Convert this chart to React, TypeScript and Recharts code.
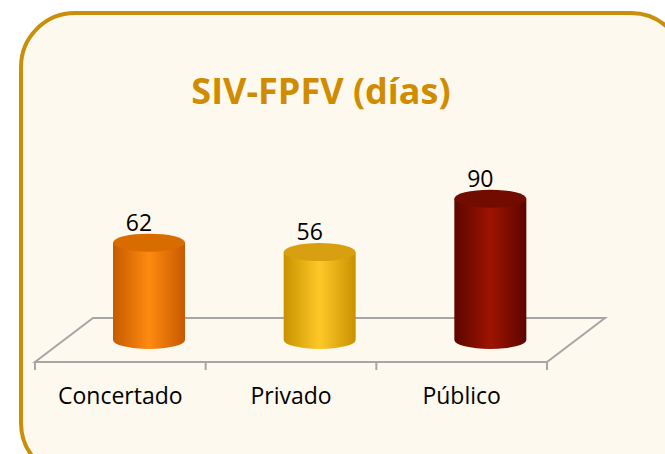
import { BarChart, Bar, XAxis, YAxis, LabelList, Customized } from "recharts";

const categories = ["Concertado", "Privado", "Público"];
const values = [62, 56, 90];

const W = 665;
const H = 454;
// floor layout
const FLOOR_LEFT = 35;
const FLOOR_RIGHT = 547;
const FLOOR_FRONT = 362;
const DEPTH_X = 58;
const DEPTH_Y = 44;
// bars stand halfway into the floor
const DX = DEPTH_X / 2;
const DY = -DEPTH_Y / 2;
const RY = 9;

const palettes = [
  { edge: "#c65a00", mid: "#ff8a10", top: "#d86c00" },
  { edge: "#c89200", mid: "#ffc828", top: "#d8a010" },
  { edge: "#5c0600", mid: "#9e1400", top: "#720c00" },
];

const data = categories.map((name, i) => ({ name, value: values[i] }));

function Cylinder(props: any) {
  const { x, y, width, height, index } = props;
  const left = x + DX;
  const right = x + width + DX;
  const top = y + DY;
  const bottom = y + height + DY;
  const rx = width / 2;
  return (
    <g>
      <path
        d={`M${left},${top} L${left},${bottom} A${rx},${RY} 0 0 0 ${right},${bottom} L${right},${top} Z`}
        fill={`url(#cyl${index})`}
      />
      <ellipse cx={left + rx} cy={top} rx={rx} ry={RY} fill={palettes[index].top} />
    </g>
  );
}

function ValueLabel(props: any) {
  const { x, y, width, value } = props;
  return (
    <text
      x={x + width / 2 + DX - 10}
      y={y + DY - RY - 3}
      textAnchor="middle"
      fontSize={23}
      fontFamily="'Open Sans', sans-serif"
      fill="#000"
    >
      {value}
    </text>
  );
}

function Floor() {
  const n = categories.length;
  const step = (FLOOR_RIGHT - FLOOR_LEFT) / n;
  const ticks = Array.from({ length: n + 1 }, (_, i) => FLOOR_LEFT + i * step);
  const stroke = "#a6a6a6";
  return (
    <g>
      <polygon
        points={`${FLOOR_LEFT},${FLOOR_FRONT} ${FLOOR_RIGHT},${FLOOR_FRONT} ${FLOOR_RIGHT + DEPTH_X},${FLOOR_FRONT - DEPTH_Y} ${FLOOR_LEFT + DEPTH_X},${FLOOR_FRONT - DEPTH_Y}`}
        fill="none"
        stroke={stroke}
        strokeWidth={2}
      />
      {ticks.map((t) => (
        <line key={t} x1={t} x2={t} y1={FLOOR_FRONT} y2={FLOOR_FRONT + 8} stroke={stroke} strokeWidth={2} />
      ))}
    </g>
  );
}

export default function App() {
  return (
    <div style={{ position: "absolute", left: 0, top: 0, width: W, height: H, overflow: "hidden", background: "#fff" }}>
      <div
        style={{
          position: "absolute",
          left: 19,
          top: 11,
          width: 660,
          height: 460,
          border: "4px solid #c8900a",
          borderRadius: 56,
          background: "#fdf9ee",
        }}
      />
      <div
        style={{
          position: "absolute",
          left: 0,
          top: 66,
          width: 642,
          textAlign: "center",
          fontFamily: "'Open Sans', sans-serif",
          fontWeight: 700,
          fontSize: 36,
          color: "#d08c00",
        }}
      >
        SIV-FPFV (días)
      </div>
      <div style={{ position: "absolute", left: 0, top: 0 }}>
        <BarChart
          width={W}
          height={H}
          data={data}
          margin={{ top: 205, right: W - FLOOR_RIGHT, bottom: H - FLOOR_FRONT - 50, left: FLOOR_LEFT }}
          barSize={72}
        >
          <defs>
            {palettes.map((p, i) => (
              <linearGradient key={i} id={`cyl${i}`} x1="0" y1="0" x2="1" y2="0">
                <stop offset="0" stopColor={p.edge} />
                <stop offset="0.5" stopColor={p.mid} />
                <stop offset="1" stopColor={p.edge} />
              </linearGradient>
            ))}
          </defs>
          <Customized component={<Floor />} />
          <XAxis
            dataKey="name"
            height={50}
            axisLine={false}
            tickLine={false}
            tickSize={0}
            tickMargin={26}
            tick={{ fontSize: 23, fill: "#000", fontFamily: "'Open Sans', sans-serif" }}
          />
          <YAxis hide domain={[0, 100]} />
          <Bar dataKey="value" shape={<Cylinder />} isAnimationActive={false}>
            <LabelList dataKey="value" content={<ValueLabel />} />
          </Bar>
        </BarChart>
      </div>
    </div>
  );
}
